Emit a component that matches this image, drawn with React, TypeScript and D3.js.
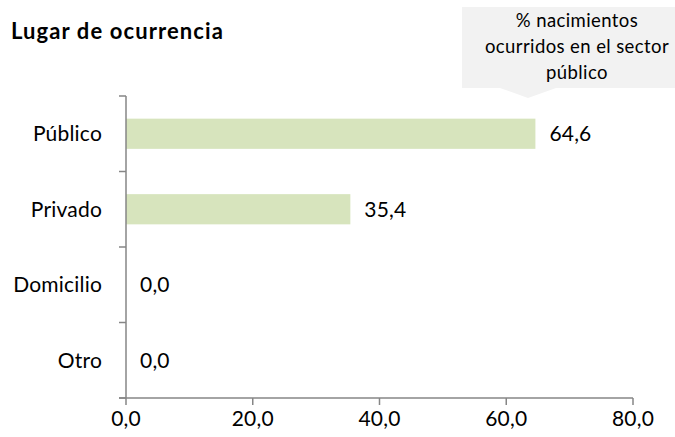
import * as d3 from 'd3';

const categories = ['Público', 'Privado', 'Domicilio', 'Otro'];
const values = [64.6, 35.4, 0.0, 0.0];
const xTicks = [0, 20, 40, 60, 80];
const title = 'Lugar de ocurrencia';
const calloutLines = ['% nacimientos', 'ocurridos en el sector', 'público'];

const W = 675;
const H = 437;
const FONT = 'Lato, "Open Sans", sans-serif';
const fmt = (v: number) => v.toFixed(1).replace('.', ',');

export default function App() {
  const margin = { top: 96, right: 42, bottom: 39, left: 126 };
  const innerW = W - margin.left - margin.right;
  const innerH = H - margin.top - margin.bottom;

  const x = d3.scaleLinear().domain([0, 80]).range([0, innerW]);
  const y = d3.scaleBand().domain(categories).range([0, innerH]).paddingInner(0.6).paddingOuter(0.3);
  const band = innerH / categories.length;

  // callout geometry
  const boxL = 462, boxT = 7, boxB = 88, tipX = 528;

  return (
    <svg width={W} height={H} style={{ position: 'absolute', left: 0, top: 0, fontFamily: FONT }}>
      <rect width={W} height={H} fill="#ffffff" />
      <text x={11} y={39} fontSize={22} fontWeight={700} letterSpacing={1.1} fill="#000">{title}</text>

      {/* callout */}
      <path
        d={`M${boxL},${boxT}H${W + 20}V${boxB}H${tipX + 28}L${tipX},${boxB + 10}L${tipX - 28},${boxB}H${boxL}Z`}
        fill="#f2f2f2"
      />
      {calloutLines.map((l, i) => (
        <text key={l} x={577} y={27 + i * 26} fontSize={18.5} letterSpacing={0.4} textAnchor="middle" fill="#000">{l}</text>
      ))}

      <g transform={`translate(${margin.left},${margin.top})`}>
        {categories.map((c, i) => (
          <g key={c}>
            <rect x={0} y={y(c)!} width={x(values[i])} height={y.bandwidth()} fill="#d7e4bd" />
            <text x={x(values[i]) + 14} y={y(c)! + y.bandwidth() / 2} dy="0.35em" fontSize={21} letterSpacing={0.2} fill="#000">
              {fmt(values[i])}
            </text>
            <text x={-24} y={y(c)! + y.bandwidth() / 2} dy="0.35em" fontSize={21} letterSpacing={0.2} textAnchor="end" fill="#000">
              {c}
            </text>
          </g>
        ))}

        {/* y axis */}
        <line x1={0} x2={0} y1={0} y2={innerH} stroke="#868686" strokeWidth={1.5} />
        {d3.range(categories.length + 1).map((i) => (
          <line key={i} x1={-7} x2={0} y1={i * band} y2={i * band} stroke="#868686" strokeWidth={1.5} />
        ))}

        {/* x axis */}
        <line x1={-7} x2={innerW} y1={innerH} y2={innerH} stroke="#868686" strokeWidth={1.5} />
        {xTicks.map((t) => (
          <g key={t} transform={`translate(${x(t)},${innerH})`}>
            <line y1={0} y2={7} stroke="#868686" strokeWidth={1.5} />
            <text y={21} dy="0.35em" fontSize={21} letterSpacing={0.2} textAnchor="middle" fill="#000">{fmt(t)}</text>
          </g>
        ))}
      </g>
    </svg>
  );
}
